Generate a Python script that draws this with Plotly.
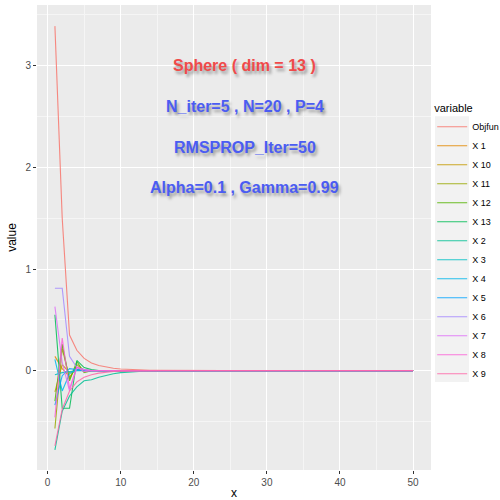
import plotly.graph_objects as go

x_vals = list(range(1, 51))

series_names = ["Objfun", "X 1", "X 10", "X 11", "X 12", "X 13", "X 2",
                "X 3", "X 4", "X 5", "X 6", "X 7", "X 8", "X 9"]

objfun = [3.39, 1.50, 0.35, 0.20, 0.12, 0.075, 0.05, 0.035, 0.024, 0.016,
          0.011, 0.007, 0.005, 0.003, 0.002, 0.001, 0.001, 0, 0, 0,
          0, 0, 0, 0, 0, 0, 0, 0, 0, 0,
          0, 0, 0, 0, 0, 0, 0, 0, 0, 0,
          0, 0, 0, 0, 0, 0, 0, 0, 0, 0]
x_1 = [0.14, 0.02, -0.06, 0.03, 0.01, 0, 0, 0, 0, 0,
       0, 0, 0, 0, 0, 0, 0, 0, 0, 0,
       0, 0, 0, 0, 0, 0, 0, 0, 0, 0,
       0, 0, 0, 0, 0, 0, 0, 0, 0, 0,
       0, 0, 0, 0, 0, 0, 0, 0, 0, 0]
x_10 = [-0.21, 0.06, -0.02, 0.01, 0, 0, 0, 0, 0, 0,
        0, 0, 0, 0, 0, 0, 0, 0, 0, 0,
        0, 0, 0, 0, 0, 0, 0, 0, 0, 0,
        0, 0, 0, 0, 0, 0, 0, 0, 0, 0,
        0, 0, 0, 0, 0, 0, 0, 0, 0, 0]
x_11 = [-0.57, 0.22, -0.08, 0.06, 0, 0, 0, 0, 0, 0,
        0, 0, 0, 0, 0, 0, 0, 0, 0, 0,
        0, 0, 0, 0, 0, 0, 0, 0, 0, 0,
        0, 0, 0, 0, 0, 0, 0, 0, 0, 0,
        0, 0, 0, 0, 0, 0, 0, 0, 0, 0]
x_12 = [-0.30, 0.26, -0.10, 0.09, -0.02, 0, 0, 0, 0, 0,
        0, 0, 0, 0, 0, 0, 0, 0, 0, 0,
        0, 0, 0, 0, 0, 0, 0, 0, 0, 0,
        0, 0, 0, 0, 0, 0, 0, 0, 0, 0,
        0, 0, 0, 0, 0, 0, 0, 0, 0, 0]
x_13 = [0.55, -0.37, -0.37, 0.10, 0.03, 0.01, 0, 0, 0, 0,
        0, 0, 0, 0, 0, 0, 0, 0, 0, 0,
        0, 0, 0, 0, 0, 0, 0, 0, 0, 0,
        0, 0, 0, 0, 0, 0, 0, 0, 0, 0,
        0, 0, 0, 0, 0, 0, 0, 0, 0, 0]
x_2 = [-0.78, -0.40, -0.25, -0.16, -0.10, -0.09, -0.065, -0.045, -0.03, -0.02,
       -0.013, -0.008, -0.005, -0.003, -0.002, -0.001, 0, 0, 0, 0,
       0, 0, 0, 0, 0, 0, 0, 0, 0, 0,
       0, 0, 0, 0, 0, 0, 0, 0, 0, 0,
       0, 0, 0, 0, 0, 0, 0, 0, 0, 0]
x_3 = [-0.04, -0.02, -0.01, 0, 0, 0, 0, 0, 0, 0,
       0, 0, 0, 0, 0, 0, 0, 0, 0, 0,
       0, 0, 0, 0, 0, 0, 0, 0, 0, 0,
       0, 0, 0, 0, 0, 0, 0, 0, 0, 0,
       0, 0, 0, 0, 0, 0, 0, 0, 0, 0]
x_4 = [0.11, -0.20, -0.03, 0.01, 0, 0, 0, 0, 0, 0,
       0, 0, 0, 0, 0, 0, 0, 0, 0, 0,
       0, 0, 0, 0, 0, 0, 0, 0, 0, 0,
       0, 0, 0, 0, 0, 0, 0, 0, 0, 0,
       0, 0, 0, 0, 0, 0, 0, 0, 0, 0]
x_5 = [-0.34, -0.05, 0.02, 0.01, 0, 0, 0, 0, 0, 0,
       0, 0, 0, 0, 0, 0, 0, 0, 0, 0,
       0, 0, 0, 0, 0, 0, 0, 0, 0, 0,
       0, 0, 0, 0, 0, 0, 0, 0, 0, 0,
       0, 0, 0, 0, 0, 0, 0, 0, 0, 0]
x_6 = [0.81, 0.81, 0.14, 0.03, 0.01, 0, 0, 0, 0, 0,
       0, 0, 0, 0, 0, 0, 0, 0, 0, 0,
       0, 0, 0, 0, 0, 0, 0, 0, 0, 0,
       0, 0, 0, 0, 0, 0, 0, 0, 0, 0,
       0, 0, 0, 0, 0, 0, 0, 0, 0, 0]
x_7 = [0.63, 0.08, -0.20, 0.03, 0.01, 0, 0, 0, 0, 0,
       0, 0, 0, 0, 0, 0, 0, 0, 0, 0,
       0, 0, 0, 0, 0, 0, 0, 0, 0, 0,
       0, 0, 0, 0, 0, 0, 0, 0, 0, 0,
       0, 0, 0, 0, 0, 0, 0, 0, 0, 0]
x_8 = [-0.46, 0.32, -0.18, 0.04, -0.01, 0, 0, 0, 0, 0,
       0, 0, 0, 0, 0, 0, 0, 0, 0, 0,
       0, 0, 0, 0, 0, 0, 0, 0, 0, 0,
       0, 0, 0, 0, 0, 0, 0, 0, 0, 0,
       0, 0, 0, 0, 0, 0, 0, 0, 0, 0]
x_9 = [-0.74, -0.38, -0.20, -0.11, -0.065, -0.04, -0.025, -0.015, -0.009, -0.005,
       -0.003, -0.002, -0.001, 0, 0, 0, 0, 0, 0, 0,
       0, 0, 0, 0, 0, 0, 0, 0, 0, 0,
       0, 0, 0, 0, 0, 0, 0, 0, 0, 0,
       0, 0, 0, 0, 0, 0, 0, 0, 0, 0]

series_values = [objfun, x_1, x_10, x_11, x_12, x_13, x_2,
                 x_3, x_4, x_5, x_6, x_7, x_8, x_9]

colors = ["#F8766D", "#E38900", "#C49A00", "#99A800", "#53B400", "#00BC56",
          "#00C094", "#00BFC4", "#00B6EB", "#06A4FF", "#A58AFF", "#DF70F8",
          "#FB61D7", "#FF66A8"]

title_lines = ["Sphere ( dim = 13 )", "N_iter=5 , N=20 , P=4",
               "RMSPROP_Iter=50", "Alpha=0.1 , Gamma=0.99"]
title_y = [3.0, 2.6, 2.2, 1.8]
title_colors = ["#F04A4A", "#4B5CF2", "#4B5CF2", "#4B5CF2"]

FONT = "Liberation Sans, Arial, Helvetica, sans-serif"

fig = go.Figure()
for name, vals, col in zip(series_names, series_values, colors):
    fig.add_trace(go.Scatter(x=x_vals, y=vals, mode="lines", name=name,
                             line=dict(color=col, width=1.1), opacity=0.85))

for txt, ty, tc in zip(title_lines, title_y, title_colors):
    fig.add_annotation(x=27, y=ty, xref="x", yref="y", text="<b>" + txt + "</b>",
                       showarrow=False,
                       font=dict(family=FONT, size=16, color=tc,
                                 shadow="2px 3px 3px rgba(0,0,0,0.35)"))

# legend key background (ggplot-style grey95 key panel)
fig.add_shape(type="rect", xref="paper", yref="paper",
              x0=1.010, x1=1.0964, y0=0.189, y1=0.761,
              fillcolor="#F2F2F2", line=dict(width=0), layer="below")

axis_common = dict(
    showgrid=True, gridcolor="white", gridwidth=1.2, zeroline=False,
    ticks="outside", ticklen=3, tickcolor="#333333", tickwidth=1,
    tickfont=dict(family=FONT, size=10, color="#4D4D4D"),
    showline=False, automargin=False,
)

fig.update_xaxes(range=[-1.45, 52.45], tick0=0, dtick=10,
                 minor=dict(dtick=5, showgrid=True, gridcolor="#F5F5F5", gridwidth=0.6),
                 title=dict(text="x", font=dict(family=FONT, size=12, color="black"), standoff=2),
                 **axis_common)
fig.update_yaxes(range=[-0.978, 3.598], tick0=0, dtick=1,
                 minor=dict(dtick=0.5, tick0=0.5, showgrid=True, gridcolor="#F5F5F5", gridwidth=0.6),
                 title=dict(text="value", font=dict(family=FONT, size=12, color="black"), standoff=6),
                 **axis_common)

fig.update_layout(
    width=500, height=500,
    margin=dict(l=37, r=69, t=5, b=30, autoexpand=False),
    paper_bgcolor="white", plot_bgcolor="#EBEBEB",
    font=dict(family=FONT),
    legend=dict(
        title=dict(text="variable", font=dict(family=FONT, size=11, color="black")),
        font=dict(family=FONT, size=9, color="black"),
        x=1.003, xanchor="left", y=0.80, yanchor="top",
        bgcolor="rgba(0,0,0,0)", itemwidth=30,
        tracegroupgap=0,
    ),
    showlegend=True,
)

fig.write_html("out.html", config={"displayModeBar": False},
               post_script="document.body.style.margin='0';document.body.style.overflow='hidden';")
